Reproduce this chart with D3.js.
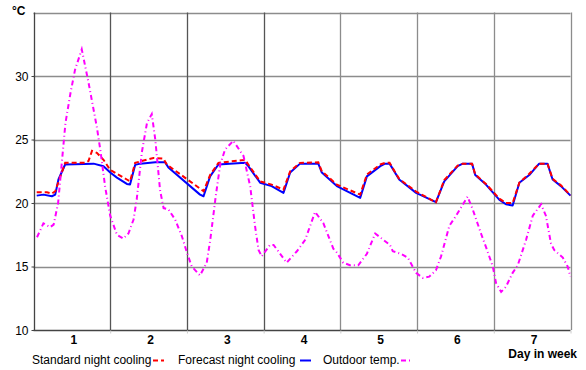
<!DOCTYPE html>
<html><head><meta charset="utf-8">
<script src="https://cdn.jsdelivr.net/npm/d3@7"></script>
<style>body{margin:0;background:#fff}svg{display:block;font-family:"Liberation Sans",Arial,sans-serif}</style>
</head><body><svg id="c" width="586" height="370"></svg>
<script>
const dayLabels = ["1","2","3","4","5","6","7"];
const yTicks = [10,15,20,25,30];
const seriesNames = ["Standard night cooling","Forecast night cooling","Outdoor temp."];

// hours since start of week, °C
const standardHours = [1,4.2,5.75,6.8,9.9,16.2,17.2,18.3,19.8,21.9,24.0,29.2,30.2,31.8,37.5,40.65,41.7,53.2,55.25,57.85,66.2,67.2,70.9,74.5,78.2,80.3,83.4,89.1,90.2,94.9,102.2,104.3,108.5,110.0,111.4,114.4,119.7,125.9,128.5,132.7,134.3,137.2,138.2,141.55,145.7,147.8,149.9,152.0,155.1,158.2,160.8,162.4,165.0,168];
const standardTemp  = [20.85,20.85,20.74,20.93,23.16,23.16,23.3,24.1,23.95,23.4,22.6,21.85,21.7,23.16,23.55,23.5,23.03,20.93,22.2,23.16,23.4,23.03,21.7,21.45,21.05,22.5,23.16,23.2,22.5,21.45,20.66,22.24,23.03,23.16,23.16,21.9,20.9,20.05,21.8,22.95,23.1,23.1,22.25,21.5,20.35,20.0,20.0,21.6,22.3,23.1,23.1,21.9,21.4,20.6];

const forecastHours = [1,3.1,5.75,6.8,7.8,9.9,18.8,21.9,24.0,26.1,29.2,30.2,31.8,33.4,38.1,41.2,42.2,52.1,53.2,55.25,57.85,66.2,67.2,70.9,74.5,78.2,80.3,83.4,89.1,90.2,94.9,102.2,104.3,108.5,110.0,111.4,114.4,119.7,125.9,128.5,132.7,134.3,137.2,138.2,141.55,145.7,147.8,149.9,152.0,155.1,158.2,160.8,162.4,165.0,168];
const forecastTemp  = [20.58,20.66,20.53,20.66,21.85,23.03,23.1,22.9,22.4,22.0,21.5,21.45,23.0,23.1,23.2,23.2,22.8,20.66,20.53,22.1,23.03,23.16,22.9,21.6,21.33,20.8,22.4,23.1,23.1,22.4,21.33,20.4,22.1,22.9,23.1,23.1,21.85,20.8,20.07,21.7,22.9,23.1,23.1,22.2,21.45,20.27,19.9,19.8,21.6,22.2,23.1,23.1,21.85,21.33,20.58];

const outdoorHours = [1.1,3.1,5.2,6.3,7.7,10.0,11.6,13.0,15.1,17.2,19.8,20.9,22.4,24.0,26.1,28.1,29.7,31.3,32.3,33.9,35.5,37.0,38.1,39.6,40.7,42.2,44.3,46.4,48.0,49.5,52.1,54.2,55.3,57.1,58.4,59.9,62.5,65.7,67.8,69.3,70.4,71.4,74.0,75.1,79.2,82.4,85.0,88.1,90.7,93.8,94.9,96.9,99.0,101.6,104.3,106.9,111.5,112.4,115.0,117.1,119.7,121.8,123.8,125.9,127.5,130.1,132.2,135.8,137.4,140.0,141.6,143.7,144.7,146.3,147.8,149.9,151.5,154.1,156.2,158.8,160.3,161.9,162.9,165.6,167.1,168];
const outdoorTemp  = [17.3,18.4,18.1,18.3,20.0,26.3,28.7,30.5,32.1,29.5,26.0,24.2,21.3,19.0,17.5,17.2,17.6,18.7,20.3,24.0,26.3,27.0,25.0,21.0,19.6,19.5,18.7,17.4,16.1,15.0,14.3,15.3,17.1,20.7,23.0,24.2,24.9,23.7,21.3,18.2,16.3,15.8,16.7,16.7,15.3,16.2,17.1,19.3,18.4,16.4,16.1,15.3,15.1,15.1,16.0,17.6,16.7,16.2,16.0,15.7,14.5,14.1,14.2,14.7,15.8,18.2,19.0,20.5,19.5,17.6,16.5,15.0,13.7,13.0,13.4,14.5,15.1,17.1,19.0,19.9,19.0,16.8,16.3,15.7,15.0,14.2];

const svg = d3.select("#c");
const L = 33.5, R = 570.5, T = 12.5, B = 330;
const x = d3.scaleLinear().domain([0,168]).range([L,R]);
const y = d3.scaleLinear().domain([10,35]).range([B,T]);
const grid = "#8c8c8c";

// horizontal gridlines
svg.append("g").selectAll("line").data([15,20,25,30,35]).join("line")
  .attr("x1",L).attr("x2",R).attr("y1",d=>Math.round(y(d))+0.5).attr("y2",d=>Math.round(y(d))+0.5)
  .attr("stroke",grid).attr("stroke-width",1.3);
// vertical gridlines at day boundaries
const bounds = d3.range(1,8).map(i=>i*24);
svg.append("g").selectAll("line").data(bounds).join("line")
  .attr("x1",d=>Math.round(x(d))+0.5).attr("x2",d=>Math.round(x(d))+0.5).attr("y1",T).attr("y2",B)
  .attr("stroke",d=>d<90?"#555":grid).attr("stroke-width",1.3);

// axes
const yAxis = d3.axisLeft(y).tickValues(yTicks).tickSize(3).tickFormat(d3.format("d"));
const gy = svg.append("g").attr("transform",`translate(${Math.round(L)+0.5},0)`).call(yAxis);
gy.select(".domain").attr("stroke","#444").attr("stroke-width",1.3).attr("d",`M0,${T}V${B}`);
gy.selectAll(".tick line").attr("stroke","#444");
gy.selectAll(".tick text").attr("font-size",12).attr("fill","#000").attr("x",-6).attr("dy","0.36em").attr("font-family","Liberation Sans, Arial, sans-serif");

const xAxis = d3.axisBottom(x).tickValues(bounds).tickSize(3).tickFormat("");
const gx = svg.append("g").attr("transform",`translate(0,${B+0.5})`).call(xAxis);
gx.select(".domain").attr("stroke","#444").attr("stroke-width",1.3).attr("d",`M${L},0H${R}`);
gx.selectAll(".tick line").attr("stroke","#ccc");

// day labels
const xb = d3.scaleBand().domain(dayLabels).range([L,R]);
svg.append("g").selectAll("text").data(dayLabels).join("text")
  .attr("x",d=>xb(d)+xb.bandwidth()/2+2).attr("y",344).attr("text-anchor","middle")
  .attr("font-size",12).attr("font-weight","bold").text(d=>d);

svg.append("text").attr("x",12).attr("y",15).attr("font-size",12).attr("font-weight","bold").text("°C");
svg.append("text").attr("x",577).attr("y",357.5).attr("text-anchor","end").attr("font-size",12).attr("font-weight","bold").text("Day in week");

// series
const line = d3.line().x(d=>x(d[0])).y(d=>y(d[1]));
const zip = (a,b)=>a.map((h,i)=>[h,b[i]]);
svg.append("path").datum(zip(forecastHours,forecastTemp)).attr("d",line)
  .attr("fill","none").attr("stroke","#0000ff").attr("stroke-width",2).attr("stroke-linejoin","round");
svg.append("path").datum(zip(standardHours,standardTemp)).attr("d",line)
  .attr("fill","none").attr("stroke","#ff0000").attr("stroke-width",2).attr("stroke-dasharray","5,3");
svg.append("path").datum(zip(outdoorHours,outdoorTemp)).attr("d",line)
  .attr("fill","none").attr("stroke","#ff00ff").attr("stroke-width",2).attr("stroke-dasharray","5,3,1,3");

// legend
const legend = [
  {name:seriesNames[0], tx:32, mx:153, color:"#ff0000", dash:"5,3"},
  {name:seriesNames[1], tx:178, mx:300, color:"#0000ff", dash:null},
  {name:seriesNames[2], tx:323, mx:401, color:"#ff00ff", dash:"5,3,1,3"}
];
const lg = svg.append("g");
legend.forEach(l=>{
  lg.append("text").attr("x",l.tx).attr("y",364).attr("font-size",12).text(l.name);
  const p = lg.append("line").attr("x1",l.mx).attr("x2",l.mx+11).attr("y1",360.5).attr("y2",360.5)
    .attr("stroke",l.color).attr("stroke-width",2);
  if(l.dash) p.attr("stroke-dasharray",l.dash);
});
</script></body></html>
